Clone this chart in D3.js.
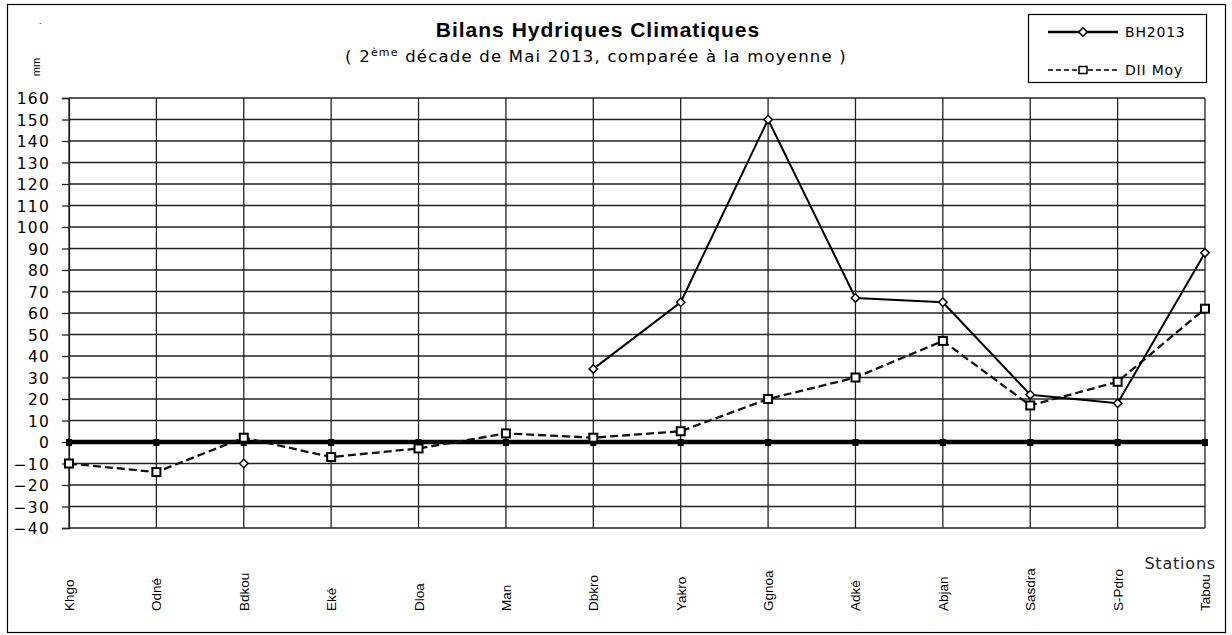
<!DOCTYPE html>
<html><head><meta charset="utf-8">
<script src="https://cdn.jsdelivr.net/npm/d3@7"></script>
<style>body{margin:0;background:#fff}svg{display:block;font-family:"Liberation Sans",Arial,sans-serif}</style>
</head><body><svg id="c" width="1232" height="635"></svg>
<script>
const stations = ["Khgo","Odné","Bdkou","Eké","Dloa","Man","Dbkro","Yakro","Ggnoa","Adké","Abjan","Sasdra","S-Pdro","Tabou"];
const bh2013 = [null,null,-10,null,null,null,34,65,150,67,65,22,18,88];
const diiMoy = [-10,-14,2,-7,-3,4,2,5,20,30,47,17,28,62];
const zeroLine = [0,0,0,0,0,0,0,0,0,0,0,0,0,0];
const yTicks = [160,150,140,130,120,110,100,90,80,70,60,50,40,30,20,10,0,-10,-20,-30,-40];

const svg = d3.select("#c");
const L = 69, R = 1205, T = 98, B = 528;
const x = d3.scalePoint().domain(stations).range([L, R]);
const y = d3.scaleLinear().domain([-40,160]).range([B, T]);
const wide = "DejaVu Sans, Verdana, sans-serif";

// outer frame
svg.append("rect").attr("x",7.5).attr("y",4.5).attr("width",1218).attr("height",628)
  .attr("fill","none").attr("stroke","#000").attr("stroke-width",1.2);

// gridlines
svg.append("g").selectAll("line").data(yTicks).join("line")
  .attr("x1",L).attr("x2",R).attr("y1",d=>y(d)).attr("y2",d=>y(d))
  .attr("stroke","#222").attr("stroke-width",1.3);
svg.append("g").selectAll("line").data(stations).join("line")
  .attr("x1",d=>x(d)).attr("x2",d=>x(d)).attr("y1",T).attr("y2",B)
  .attr("stroke","#222").attr("stroke-width",1.3);

// y axis
const yAxis = d3.axisLeft(y).tickValues(yTicks).tickSize(7).tickPadding(4);
const ga = svg.append("g").attr("transform",`translate(${L},0)`).call(yAxis);
ga.attr("font-family",wide).attr("font-size",15.5);
ga.select(".domain").attr("stroke","#222").attr("stroke-width",1.3);
ga.selectAll(".tick line").attr("stroke","#222").attr("stroke-width",1.3);
ga.selectAll("text").attr("fill","#000").attr("x",-19).attr("letter-spacing",1.2).attr("dy","0.36em");

// x labels
svg.append("g").selectAll("text").data(stations).join("text")
  .attr("transform",d=>`translate(${x(d)+5},611) rotate(-90)`)
  .attr("font-size",13.5).attr("fill","#000").text(d=>d);

svg.append("text").attr("x",1216).attr("y",569).attr("text-anchor","end")
  .attr("font-family",wide).attr("font-size",16).attr("letter-spacing",0.8).attr("fill","#222").text("Stations");

// mm
svg.append("text").attr("transform","translate(40,67) rotate(-90)")
  .attr("font-size",11).attr("text-anchor","middle").text("mm");
svg.append("text").attr("x",39).attr("y",24).attr("font-size",9).text(".");

// title
svg.append("text").attr("x",598).attr("y",37).attr("text-anchor","middle")
  .attr("font-size",21).attr("font-weight","bold").attr("letter-spacing",1).text("Bilans Hydriques Climatiques");
const st = svg.append("text").attr("x",596).attr("y",62).attr("text-anchor","middle")
  .attr("font-family",wide).attr("font-size",16.5).attr("letter-spacing",1.2);
st.append("tspan").text("( 2");
st.append("tspan").attr("dy",-6).attr("font-size",11).text("ème");
st.append("tspan").attr("dy",6).text(" décade de Mai 2013, comparée à la moyenne  )");

// zero series (thick)
const line0 = d3.line().x((d,i)=>x(stations[i])).y(d=>y(d));
svg.append("path").attr("d",line0(zeroLine)).attr("fill","none").attr("stroke","#000").attr("stroke-width",4.5);
svg.append("g").selectAll("rect").data(zeroLine).join("rect")
  .attr("x",(d,i)=>x(stations[i])-3).attr("y",d=>y(d)-3).attr("width",6).attr("height",7).attr("fill","#000");

// DII Moy dashed
const lineD = d3.line().defined(d=>d!==null).x((d,i)=>x(stations[i])).y(d=>y(d));
svg.append("path").attr("d",lineD(diiMoy)).attr("fill","none").attr("stroke","#111")
  .attr("stroke-width",2.3).attr("stroke-dasharray","8,4");

// BH2013 solid
svg.append("path").attr("d",lineD(bh2013)).attr("fill","none").attr("stroke","#000").attr("stroke-width",2);

// markers
svg.append("g").selectAll("rect").data(diiMoy.map((v,i)=>({v,i})).filter(d=>d.v!==null)).join("rect")
  .attr("x",d=>x(stations[d.i])-4).attr("y",d=>y(d.v)-4).attr("width",8).attr("height",8)
  .attr("fill","#fff").attr("stroke","#000").attr("stroke-width",2);
const diamond = d3.symbol().type(d3.symbolDiamond2).size(45);
svg.append("g").selectAll("path").data(bh2013.map((v,i)=>({v,i})).filter(d=>d.v!==null)).join("path")
  .attr("transform",d=>`translate(${x(stations[d.i])},${y(d.v)})`).attr("d",diamond)
  .attr("fill","#fff").attr("stroke","#000").attr("stroke-width",1.5);

// legend
svg.append("rect").attr("x",1028.5).attr("y",14.5).attr("width",178).attr("height",68)
  .attr("fill","#fff").attr("stroke","#000").attr("stroke-width",1.2);
svg.append("line").attr("x1",1048).attr("x2",1118).attr("y1",32).attr("y2",32).attr("stroke","#000").attr("stroke-width",2.5);
svg.append("path").attr("transform","translate(1083,32)").attr("d",diamond).attr("fill","#fff").attr("stroke","#000").attr("stroke-width",1.5);
svg.append("text").attr("x",1125).attr("y",37).attr("font-family",wide).attr("font-size",14).attr("letter-spacing",0.8).text("BH2013");
svg.append("line").attr("x1",1048).attr("x2",1118).attr("y1",70).attr("y2",70).attr("stroke","#000").attr("stroke-width",1.5).attr("stroke-dasharray","5,3");
svg.append("rect").attr("x",1079).attr("y",66.5).attr("width",8).attr("height",7).attr("fill","#fff").attr("stroke","#000").attr("stroke-width",1.5);
svg.append("text").attr("x",1125).attr("y",75).attr("font-family",wide).attr("font-size",14).attr("letter-spacing",0.8).text("DII Moy");
</script></body></html>
